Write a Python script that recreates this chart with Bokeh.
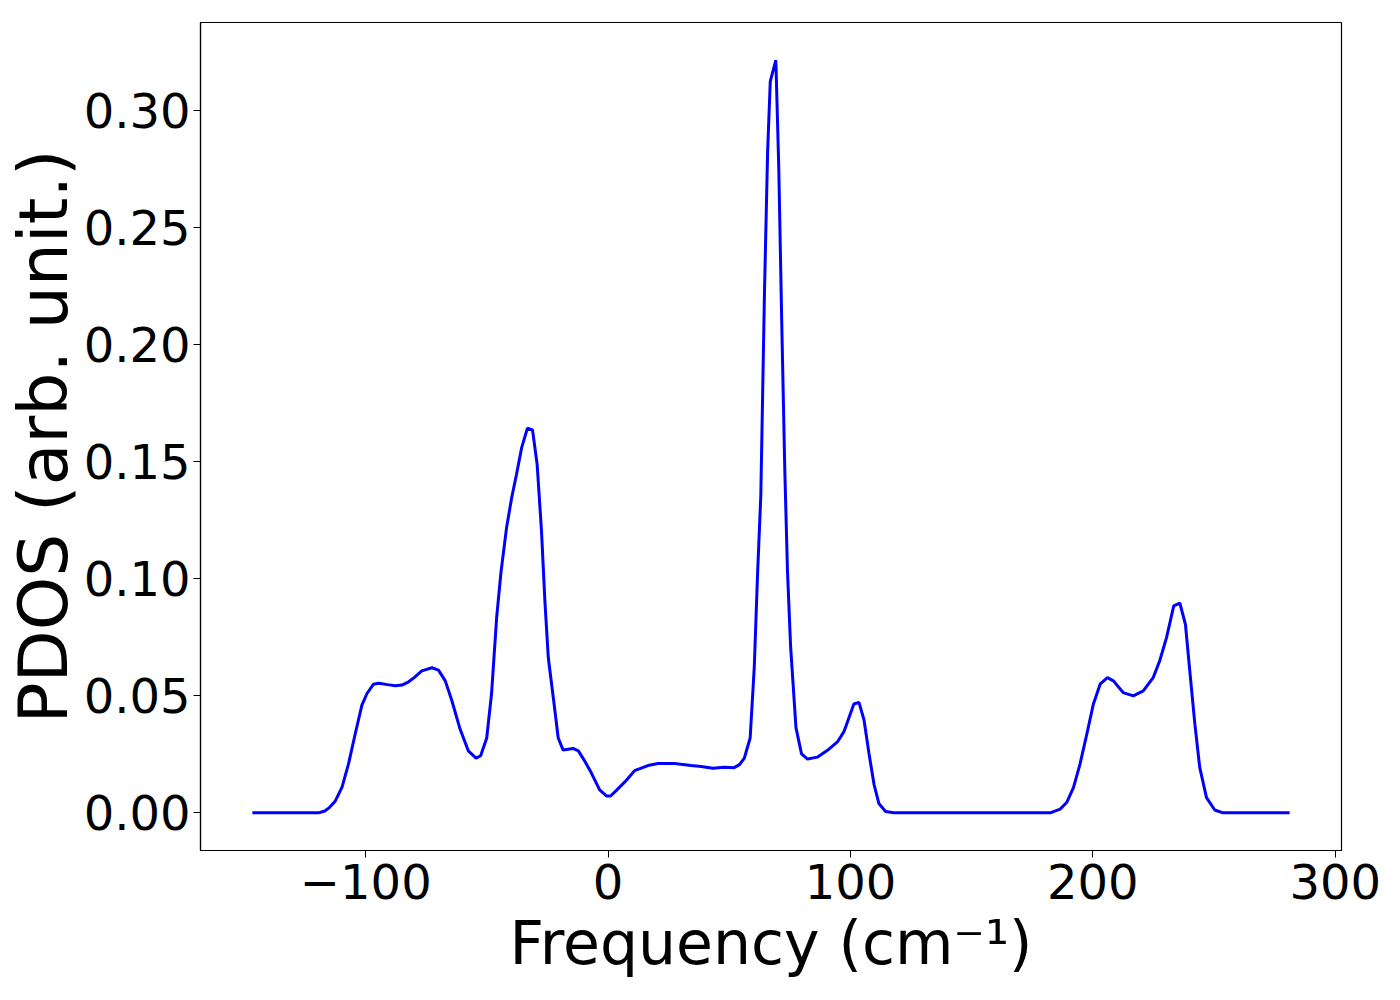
from bokeh.plotting import figure
from bokeh.models import Range1d, FixedTicker, NumeralTickFormatter
from bokeh.embed import file_html
from bokeh.resources import INLINE

freq = [-146.8, -132.7, -119.5, -116.9, -115.3, -112.6, -109.8, -107.1, -104.3, -101.6,
        -99.5, -96.8, -94.6, -91.0, -87.8, -85.1, -82.3, -79.8, -76.9, -72.7,
        -70.0, -67.2, -64.5, -61.1, -57.7, -54.5, -52.6, -50.1, -48.1, -46.0,
        -44.2, -41.9, -39.8, -37.8, -35.7, -33.3, -31.2, -29.3, -27.5, -26.1,
        -24.7, -22.6, -20.6, -18.6, -14.5, -12.3, -9.7, -6.9, -3.5, -0.7,
        1.0, 3.3, 6.8, 10.9, 16.4, 20.5, 27.4, 34.2, 38.4, 43.2,
        48.0, 52.0, 54.2, 56.2, 58.6, 60.3, 61.7, 63.0, 64.5, 65.8,
        66.9, 69.2, 70.4, 71.6, 72.9, 74.0, 75.3, 77.5, 79.8, 82.3,
        86.3, 90.5, 94.6, 97.3, 99.4, 101.4, 103.5, 105.6, 107.6, 109.7,
        111.7, 114.5, 117.9, 152.4, 182.4, 186.5, 189.2, 192.0, 194.7, 197.5,
        200.2, 203.0, 206.0, 208.5, 212.5, 216.7, 220.8, 224.9, 227.6, 230.4,
        233.4, 235.9, 238.2, 240.0, 242.1, 244.1, 246.9, 250.3, 253.7, 281.2]
pdos = [0.0, 0.0, 0.0, 0.0008, 0.002, 0.005, 0.011, 0.021, 0.034, 0.046,
        0.051, 0.055, 0.0554, 0.0548, 0.0543, 0.0546, 0.056, 0.058, 0.0607, 0.062,
        0.061, 0.0564, 0.048, 0.0358, 0.0265, 0.0234, 0.0244, 0.032, 0.051, 0.0835,
        0.103, 0.122, 0.1347, 0.1447, 0.156, 0.1644, 0.1637, 0.149, 0.1205, 0.0906,
        0.0664, 0.049, 0.032, 0.0269, 0.0275, 0.0265, 0.0222, 0.017, 0.0098, 0.0072,
        0.0072, 0.0095, 0.0131, 0.018, 0.0202, 0.0211, 0.0211, 0.0202, 0.0198, 0.0191,
        0.0195, 0.0193, 0.0206, 0.0234, 0.032, 0.0623, 0.1033, 0.1357, 0.222, 0.2825,
        0.3126, 0.3217, 0.276, 0.2112, 0.1464, 0.1033, 0.0709, 0.0364, 0.0252, 0.023,
        0.0238, 0.0267, 0.0303, 0.0347, 0.0407, 0.0465, 0.0472, 0.0396, 0.0256, 0.0122,
        0.004, 0.0006, 0.0, 0.0, 0.0, 0.0016, 0.0044, 0.0108, 0.0208, 0.0336,
        0.0464, 0.055, 0.0578, 0.0564, 0.0514, 0.05, 0.0521, 0.0578, 0.065, 0.0749,
        0.0885, 0.0896, 0.0806, 0.0607, 0.0379, 0.0194, 0.0065, 0.0012, 0.0, 0.0]

x_ticks = [-100, 0, 100, 200, 300]
y_ticks = [0.0, 0.05, 0.10, 0.15, 0.20, 0.25, 0.30]
x_label = "Frequency (cm\u207b\u00b9)"
y_label = "PDOS (arb. unit.)"

FONT = "DejaVu Sans"

X0, X1 = -168.2, 302.6
Y0, Y1 = -0.0161, 0.3378

p = figure(frame_width=1141, frame_height=828,
           min_border_left=200, min_border_top=22, min_border_right=43, min_border_bottom=134,
           x_range=Range1d(X0, X1), y_range=Range1d(Y0, Y1),
           output_backend="svg", toolbar_location=None)

p.line(freq, pdos, line_color="#0000ff", line_width=3)

p.xgrid.visible = False
p.ygrid.visible = False
p.outline_line_color = "black"
p.outline_line_width = 1.2
p.background_fill_color = "white"
p.border_fill_color = "white"

p.xaxis.ticker = FixedTicker(ticks=x_ticks)
p.xaxis.major_label_overrides = {-100: "\u2212100"}
p.yaxis.ticker = FixedTicker(ticks=y_ticks)
p.yaxis.formatter = NumeralTickFormatter(format="0.00")

for ax in (p.xaxis[0], p.yaxis[0]):
    ax.major_label_text_font = FONT
    ax.major_label_text_font_size = "48px"
    ax.major_label_text_color = "black"
    ax.axis_label_text_font = FONT
    ax.axis_label_text_font_style = "normal"
    ax.axis_label_text_color = "black"
    ax.major_tick_out = 7
    ax.major_tick_in = 0
    ax.minor_tick_out = 0
    ax.minor_tick_in = 0
    ax.major_tick_line_color = "black"
    ax.axis_line_color = "black"
    ax.axis_line_width = 1.2

p.xaxis.axis_label = x_label
p.yaxis.axis_label = y_label
p.xaxis.axis_label_text_font_size = "60px"
p.yaxis.axis_label_text_font_size = "68px"
p.xaxis.major_label_standoff = 6
p.yaxis.major_label_standoff = 3
p.xaxis.axis_label_standoff = 6
p.yaxis.axis_label_standoff = -2

open("out.html", "w").write(file_html(p, INLINE))
